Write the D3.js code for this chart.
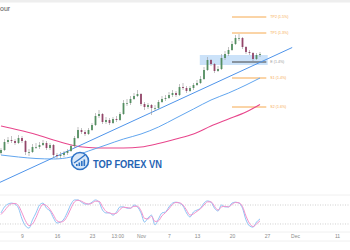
<!DOCTYPE html>
<html>
<head>
<meta charset="utf-8">
<script src="https://cdn.jsdelivr.net/npm/d3@7"></script>
<style>
  body { margin: 0; background: #fff; }
  svg { display: block; font-family: "Liberation Sans", Arial, sans-serif; }
</style>
</head>
<body>
<div id="container"></div>
<script>
// 8h candles, two per trading day, first one sits 3 days before Oct 9
let firstDay = -3;
let dayStep = 0.5;
let firstOpen = 1.0500;
let closes = [1.0512,1.0544,1.0552,1.0548,1.0540,1.0560,1.0548,1.0504,1.0504,1.0524,
  1.0524,1.0532,1.0540,1.0520,1.0532,1.0492,1.0488,1.0492,1.0500,1.0508,
  1.0528,1.0560,1.0592,1.0584,1.0576,1.0592,1.0612,1.0648,1.0656,1.0624,
  1.0632,1.0620,1.0636,1.0632,1.0656,1.0700,1.0700,1.0716,1.0728,1.0736,
  1.0696,1.0684,1.0692,1.0680,1.0680,1.0704,1.0716,1.0720,1.0732,1.0740,
  1.0732,1.0764,1.0760,1.0748,1.0760,1.0772,1.0780,1.0796,1.0832,1.0872,
  1.0856,1.0828,1.0836,1.0880,1.0896,1.0912,1.0936,1.0960,1.0960,1.0924,
  1.0904,1.0900,1.0876,1.0892,1.0896];
let highs = [1.0520,1.0556,1.0564,1.0568,1.0556,1.0572,1.0568,1.0552,1.0516,1.0536,
  1.0540,1.0544,1.0552,1.0548,1.0540,1.0536,1.0500,1.0504,1.0508,1.0516,
  1.0536,1.0568,1.0604,1.0600,1.0592,1.0600,1.0620,1.0660,1.0672,1.0660,
  1.0644,1.0640,1.0644,1.0648,1.0664,1.0712,1.0716,1.0728,1.0740,1.0752,
  1.0740,1.0704,1.0700,1.0696,1.0692,1.0712,1.0728,1.0732,1.0744,1.0752,
  1.0748,1.0776,1.0780,1.0768,1.0768,1.0780,1.0792,1.0808,1.0844,1.0884,
  1.0876,1.0860,1.0848,1.0896,1.0908,1.0924,1.0948,1.0972,1.0976,1.0964,
  1.0928,1.0912,1.0904,1.0900,1.0904];
let lows = [1.0494,1.0508,1.0536,1.0540,1.0532,1.0536,1.0540,1.0492,1.0488,1.0500,
  1.0516,1.0516,1.0528,1.0512,1.0512,1.0480,1.0476,1.0480,1.0484,1.0492,
  1.0504,1.0520,1.0556,1.0576,1.0568,1.0572,1.0588,1.0608,1.0640,1.0616,
  1.0616,1.0612,1.0616,1.0624,1.0628,1.0652,1.0688,1.0692,1.0712,1.0724,
  1.0688,1.0672,1.0676,1.0652,1.0668,1.0676,1.0700,1.0708,1.0716,1.0724,
  1.0724,1.0728,1.0752,1.0740,1.0744,1.0752,1.0768,1.0776,1.0792,1.0828,
  1.0848,1.0820,1.0824,1.0832,1.0872,1.0888,1.0908,1.0932,1.0948,1.0916,
  1.0896,1.0892,1.0868,1.0872,1.0884];

// moving averages, sampled every 5 candles
let maDays = [-3,-0.5,2,4.5,7,9.5,12,14.5,17,19.5,22,24.5,27,29.5,32,34];
let maPink = [1.0608,1.0592,1.0574,1.0552,1.0532,1.0522,1.0520,1.0520,1.0524,1.0538,
  1.0556,1.0576,1.0608,1.0636,1.0664,1.0694];
let maBlue = [1.0492,1.0484,1.0478,1.0476,1.0484,1.0508,1.0532,1.0556,1.0576,1.0604,
  1.0640,1.0676,1.0712,1.0740,1.0772,1.0800];

// trend line and the marked zone
let trendDays = [-3.2, 38.6];
let trendPrices = [1.0382, 1.0922];
let zoneDays = [25.4, 35.1];
let zonePrices = [1.0852, 1.0892];

// target levels
let levelPrices = [1.1044, 1.0980, 1.0864, 1.0800, 1.0684];
let levelLabels = ["TP2 (1.5%)", "TP1 (1.3%)", "E (1.4%)", "S1 (1.4%)", "S2 (1.6%)"];
let levelColors = ["#f6a94e", "#f6a94e", "#444", "#f6a94e", "#f6a94e"];
let levelDays = [30, 34.9];

// stochastic RSI
let stochK = [55,74,83,86,83,70,36,14,7,33,55,80,86,70,61,39,23,26,36,58,
  83,96,96,89,83,83,89,96,89,64,55,55,48,58,74,74,70,70,80,74,
  55,26,39,48,17,36,55,58,74,86,89,86,77,55,42,58,64,70,86,93,
  89,70,61,80,74,74,86,89,86,70,33,14,10,26,36];
let stochD = [50,62,76,84,85,78,55,30,15,20,40,66,82,78,66,48,30,26,30,46,
  70,90,95,92,86,83,86,92,92,75,60,55,52,54,66,73,72,70,76,76,
  62,38,36,44,28,30,46,56,68,82,88,87,80,64,48,52,60,68,80,90,
  90,76,64,74,76,74,82,88,87,75,45,22,12,20,30];
let stochBands = [80, 20];

// time axis: trading days from Mon Oct 9
let tickDays = [0, 5, 10, 13.6, 17, 21, 25, 30, 35, 39, 45];
let tickLabels = ["9", "16", "23", "13:00", "Nov", "7", "13", "20", "27", "Dec", "11"];

let w = 350;
let h = 250;

let viz = d3.select("#container")
  .append("svg")
    .attr("width", w)
    .attr("height", h)
;

let candles = closes.map(function(c, i){
  return {
    day: firstDay + i*dayStep,
    open: i == 0 ? firstOpen : closes[i-1],
    high: highs[i],
    low: lows[i],
    close: c
  }
});

let xScale = d3.scaleLinear().domain([-22/7, 328/7]).range([0, w]);
let yScale = d3.scaleLinear().domain([1.04, 1.1048]).range([178, 16]);
let sScale = d3.scaleLinear().domain([0, 100]).range([230.3, 198.7]);

// frame bits
viz.append("rect").attr("x", 0).attr("y", 0).attr("width", w).attr("height", 2.5).attr("fill", "#eeeeee");
viz.append("text")
    .attr("x", 0).attr("y", 11)
    .attr("font-size", 7)
    .attr("fill", "#555")
    .text("our")
;
[195, 232, 241].forEach(function(yy){
  viz.append("line")
      .attr("x1", 0).attr("x2", w).attr("y1", yy).attr("y2", yy)
      .attr("stroke", "#f0f0f0").attr("stroke-width", 1)
  ;
});

// zone
viz.append("rect")
    .attr("x", xScale(zoneDays[0]))
    .attr("y", yScale(zonePrices[1]))
    .attr("width", xScale(zoneDays[1]) - xScale(zoneDays[0]))
    .attr("height", yScale(zonePrices[0]) - yScale(zonePrices[1]))
    .attr("fill", "#a9cff5")
    .attr("opacity", 0.6)
;

// levels
let levels = viz.selectAll(".level").data(levelPrices).enter().append("g").attr("class", "level");
levels.append("line")
    .attr("x1", xScale(levelDays[0]))
    .attr("x2", xScale(levelDays[1]))
    .attr("y1", function(d){ return yScale(d) })
    .attr("y2", function(d){ return yScale(d) })
    .attr("stroke", function(d, i){ return levelColors[i] })
    .attr("stroke-width", 1)
;
levels.append("text")
    .attr("x", xScale(levelDays[1]) + 4)
    .attr("y", function(d){ return yScale(d) + 1.3 })
    .attr("font-size", 3.6)
    .attr("fill", function(d, i){ return i == 2 ? "#999" : levelColors[i] })
    .text(function(d, i){ return levelLabels[i] })
;

// moving averages
let maLine = function(vals){
  return d3.line()
    .x(function(d, i){ return xScale(maDays[i]) })
    .y(function(d){ return yScale(d) })
    .curve(d3.curveMonotoneX)(vals);
};
viz.append("path").attr("d", maLine(maPink)).attr("fill", "none").attr("stroke", "#e8468c").attr("stroke-width", 1.1);
viz.append("path").attr("d", maLine(maBlue)).attr("fill", "none").attr("stroke", "#62a6ef").attr("stroke-width", 1);

// trend line
viz.append("line")
    .attr("x1", xScale(trendDays[0])).attr("y1", yScale(trendPrices[0]))
    .attr("x2", xScale(trendDays[1])).attr("y2", yScale(trendPrices[1]))
    .attr("stroke", "#4f94ea").attr("stroke-width", 1)
;

// candles
let cg = viz.selectAll(".candle").data(candles).enter().append("g").attr("class", "candle");
cg.append("line")
    .attr("x1", function(d){ return xScale(d.day) })
    .attr("x2", function(d){ return xScale(d.day) })
    .attr("y1", function(d){ return yScale(d.high) })
    .attr("y2", function(d){ return yScale(d.low) })
    .attr("stroke", "#999")
    .attr("stroke-width", 0.6)
;
cg.append("rect")
    .attr("x", function(d){ return xScale(d.day) - 0.9 })
    .attr("width", 1.8)
    .attr("y", function(d){ return yScale(Math.max(d.open, d.close)) })
    .attr("height", function(d){ return Math.max(0.8, Math.abs(yScale(d.open) - yScale(d.close))) })
    .attr("fill", function(d){ return d.close >= d.open ? "#558f62" : "#94466a" })
;

// logo
let logo = viz.append("g").attr("transform", "translate(80,161)");
logo.append("circle").attr("r", 8.5).attr("fill", "#d9e8f8").attr("stroke", "#2f73c6").attr("stroke-width", 1.6);
[[-4, 2], [-1.5, 3.5], [1, 5], [3.5, 6.5]].forEach(function(b){
  logo.append("rect").attr("x", b[0]).attr("y", 5 - b[1]).attr("width", 1.6).attr("height", b[1]).attr("fill", "#2f73c6");
});
logo.append("path").attr("d", "M-6,2 Q0,-2 5,-6").attr("fill", "none").attr("stroke", "#2f73c6").attr("stroke-width", 1.2);
viz.append("text")
    .attr("x", 93).attr("y", 167.5)
    .attr("font-size", 11)
    .attr("font-weight", "bold")
    .attr("fill", "#2563b3")
    .attr("textLength", 69)
    .attr("lengthAdjust", "spacingAndGlyphs")
    .text("TOP FOREX VN")
;

// stochastic pane
stochBands.forEach(function(b){
  viz.append("line")
      .attr("x1", 0).attr("x2", w)
      .attr("y1", sScale(b)).attr("y2", sScale(b))
      .attr("stroke", "#bdbdbd").attr("stroke-width", 0.7)
      .attr("stroke-dasharray", "1,1.5")
  ;
});
let sLine = d3.line()
  .x(function(d, i){ return xScale(firstDay + i*dayStep) })
  .y(function(d){ return sScale(d) })
  .curve(d3.curveMonotoneX);
viz.append("path").attr("d", sLine(stochK)).attr("fill", "none").attr("stroke", "#8cc3f5").attr("stroke-width", 1);
viz.append("path").attr("d", sLine(stochD)).attr("fill", "none").attr("stroke", "#f291cc").attr("stroke-width", 1);

// time axis
let xAxis = d3.axisBottom(xScale)
  .tickValues(tickDays)
  .tickFormat(function(d, i){ return tickLabels[i] })
  .tickSize(0)
  .tickPadding(0);
let xAxisGroup = viz.append("g")
    .attr("class", "xaxisgroup")
    .attr("transform", "translate(0,234)")
;
xAxisGroup.call(xAxis);
xAxisGroup.select(".domain").remove();
xAxisGroup.selectAll("text")
    .attr("font-size", 5)
    .attr("fill", "#8a8a8a")
    .attr("font-family", "Liberation Sans, Arial, sans-serif")
;
</script>
</body>
</html>
